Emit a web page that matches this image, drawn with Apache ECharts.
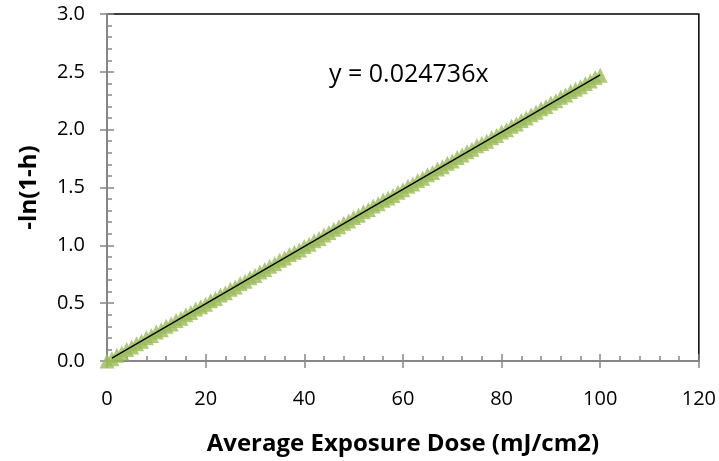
<!DOCTYPE html>
<html>
<head>
<meta charset="utf-8">
<script src="https://cdn.jsdelivr.net/npm/echarts@6/dist/echarts.min.js"></script>
<style>
  html, body { margin: 0; padding: 0; background: #fff; }
  #chart { width: 719px; height: 461px; }
</style>
</head>
<body>
<div id="chart"></div>
<script>
// measured points: dose (mJ/cm2) vs -ln(1-h)
const doses = [
  0, 1, 2, 3, 4, 5, 6, 7, 8, 9, 10, 11, 12, 13, 14, 15, 16, 17, 18, 19,
  20, 21, 22, 23, 24, 25, 26, 27, 28, 29, 30, 31, 32, 33, 34, 35, 36, 37, 38, 39,
  40, 41, 42, 43, 44, 45, 46, 47, 48, 49, 50, 51, 52, 53, 54, 55, 56, 57, 58, 59,
  60, 61, 62, 63, 64, 65, 66, 67, 68, 69, 70, 71, 72, 73, 74, 75, 76, 77, 78, 79,
  80, 81, 82, 83, 84, 85, 86, 87, 88, 89, 90, 91, 92, 93, 94, 95, 96, 97, 98, 99, 100
];
const lnValues = [
  0.00, 0.02, 0.05, 0.07, 0.10, 0.12, 0.15, 0.17, 0.20, 0.22, 0.25, 0.27, 0.30, 0.32, 0.35, 0.37, 0.40, 0.42, 0.45, 0.47,
  0.49, 0.52, 0.54, 0.57, 0.59, 0.62, 0.64, 0.67, 0.69, 0.72, 0.74, 0.77, 0.79, 0.82, 0.84, 0.87, 0.89, 0.92, 0.94, 0.96,
  0.99, 1.01, 1.04, 1.06, 1.09, 1.11, 1.14, 1.16, 1.19, 1.21, 1.24, 1.26, 1.29, 1.31, 1.34, 1.36, 1.39, 1.41, 1.43, 1.46,
  1.48, 1.51, 1.53, 1.56, 1.58, 1.61, 1.63, 1.66, 1.68, 1.71, 1.73, 1.76, 1.78, 1.81, 1.83, 1.86, 1.88, 1.90, 1.93, 1.95,
  1.98, 2.00, 2.03, 2.05, 2.08, 2.10, 2.13, 2.15, 2.18, 2.20, 2.23, 2.25, 2.28, 2.30, 2.33, 2.35, 2.37, 2.40, 2.42, 2.45, 2.47
];
// linear trendline endpoints (y = 0.024736x)
const trendX = [1, 100];
const trendY = [0.0247, 2.4736];
const equationLabel = 'y = 0.024736x';

const font = "'Open Sans', 'Noto Sans', sans-serif";
const axisGrey = '#868686';

const chart = echarts.init(document.getElementById('chart'));

const baseX = {
  type: 'value', min: 0, max: 120, interval: 20, position: 'bottom',
  axisLine: { show: true, lineStyle: { color: axisGrey, width: 2 } },
  splitLine: { show: false }
};
const baseY = {
  type: 'value', min: 0, max: 3, interval: 0.5, position: 'left',
  axisLine: { show: true, lineStyle: { color: axisGrey, width: 2 } },
  splitLine: { show: false }
};

chart.setOption({
  animation: false,
  grid: {
    left: 107, right: 18, top: 14, bottom: 99,
    show: true, borderColor: '#000', borderWidth: 1.5, backgroundColor: 'transparent'
  },
  xAxis: [
    Object.assign({}, baseX, {
      axisTick: { show: true, inside: false, length: 7, lineStyle: { color: axisGrey, width: 1.5 } },
      axisLabel: { color: '#000', fontSize: 20, fontFamily: font, margin: 28,
        formatter: (v) => String(v) },
      name: 'Average Exposure Dose (mJ/cm2)',
      nameLocation: 'middle', nameGap: 71,
      nameTextStyle: { color: '#000', fontSize: 24, fontWeight: 'bold', fontFamily: font }
    }),
    Object.assign({}, baseX, {
      axisTick: { show: true, inside: true, length: 7, lineStyle: { color: axisGrey, width: 1.5 } },
      minorTick: { show: true, splitNumber: 5, length: 5, lineStyle: { color: axisGrey, width: 1.5 } },
      axisLabel: { show: false }
    })
  ],
  yAxis: [
    Object.assign({}, baseY, {
      axisTick: { show: true, inside: false, length: 7, lineStyle: { color: axisGrey, width: 1.5 } },
      axisLabel: { color: '#000', fontSize: 20, fontFamily: font, margin: 22,
        formatter: (v) => v.toFixed(1) },
      name: '-ln(1-h)',
      nameLocation: 'middle', nameGap: 66, nameRotate: 90,
      nameTextStyle: { color: '#000', fontSize: 24, fontWeight: 'bold', fontFamily: font }
    }),
    Object.assign({}, baseY, {
      axisTick: { show: true, inside: true, length: 7, lineStyle: { color: axisGrey, width: 1.5 } },
      minorTick: { show: true, splitNumber: 5, length: 5, lineStyle: { color: axisGrey, width: 1.5 } },
      axisLabel: { show: false }
    })
  ],
  series: [
    {
      type: 'scatter',
      symbol: 'triangle',
      symbolSize: 15,
      itemStyle: { color: '#9BBB59' },
      data: doses.map((d, i) => [d, lnValues[i]]),
      z: 2
    },
    {
      type: 'line',
      showSymbol: false,
      symbol: 'none',
      lineStyle: { color: '#000', width: 1.3 },
      data: trendX.map((d, i) => [d, trendY[i]]),
      z: 3
    }
  ],
  graphic: [
    {
      type: 'text', left: 329, top: 62,
      style: { text: equationLabel, fill: '#000', font: `25px ${font}` }
    }
  ]
});
</script>
</body>
</html>
